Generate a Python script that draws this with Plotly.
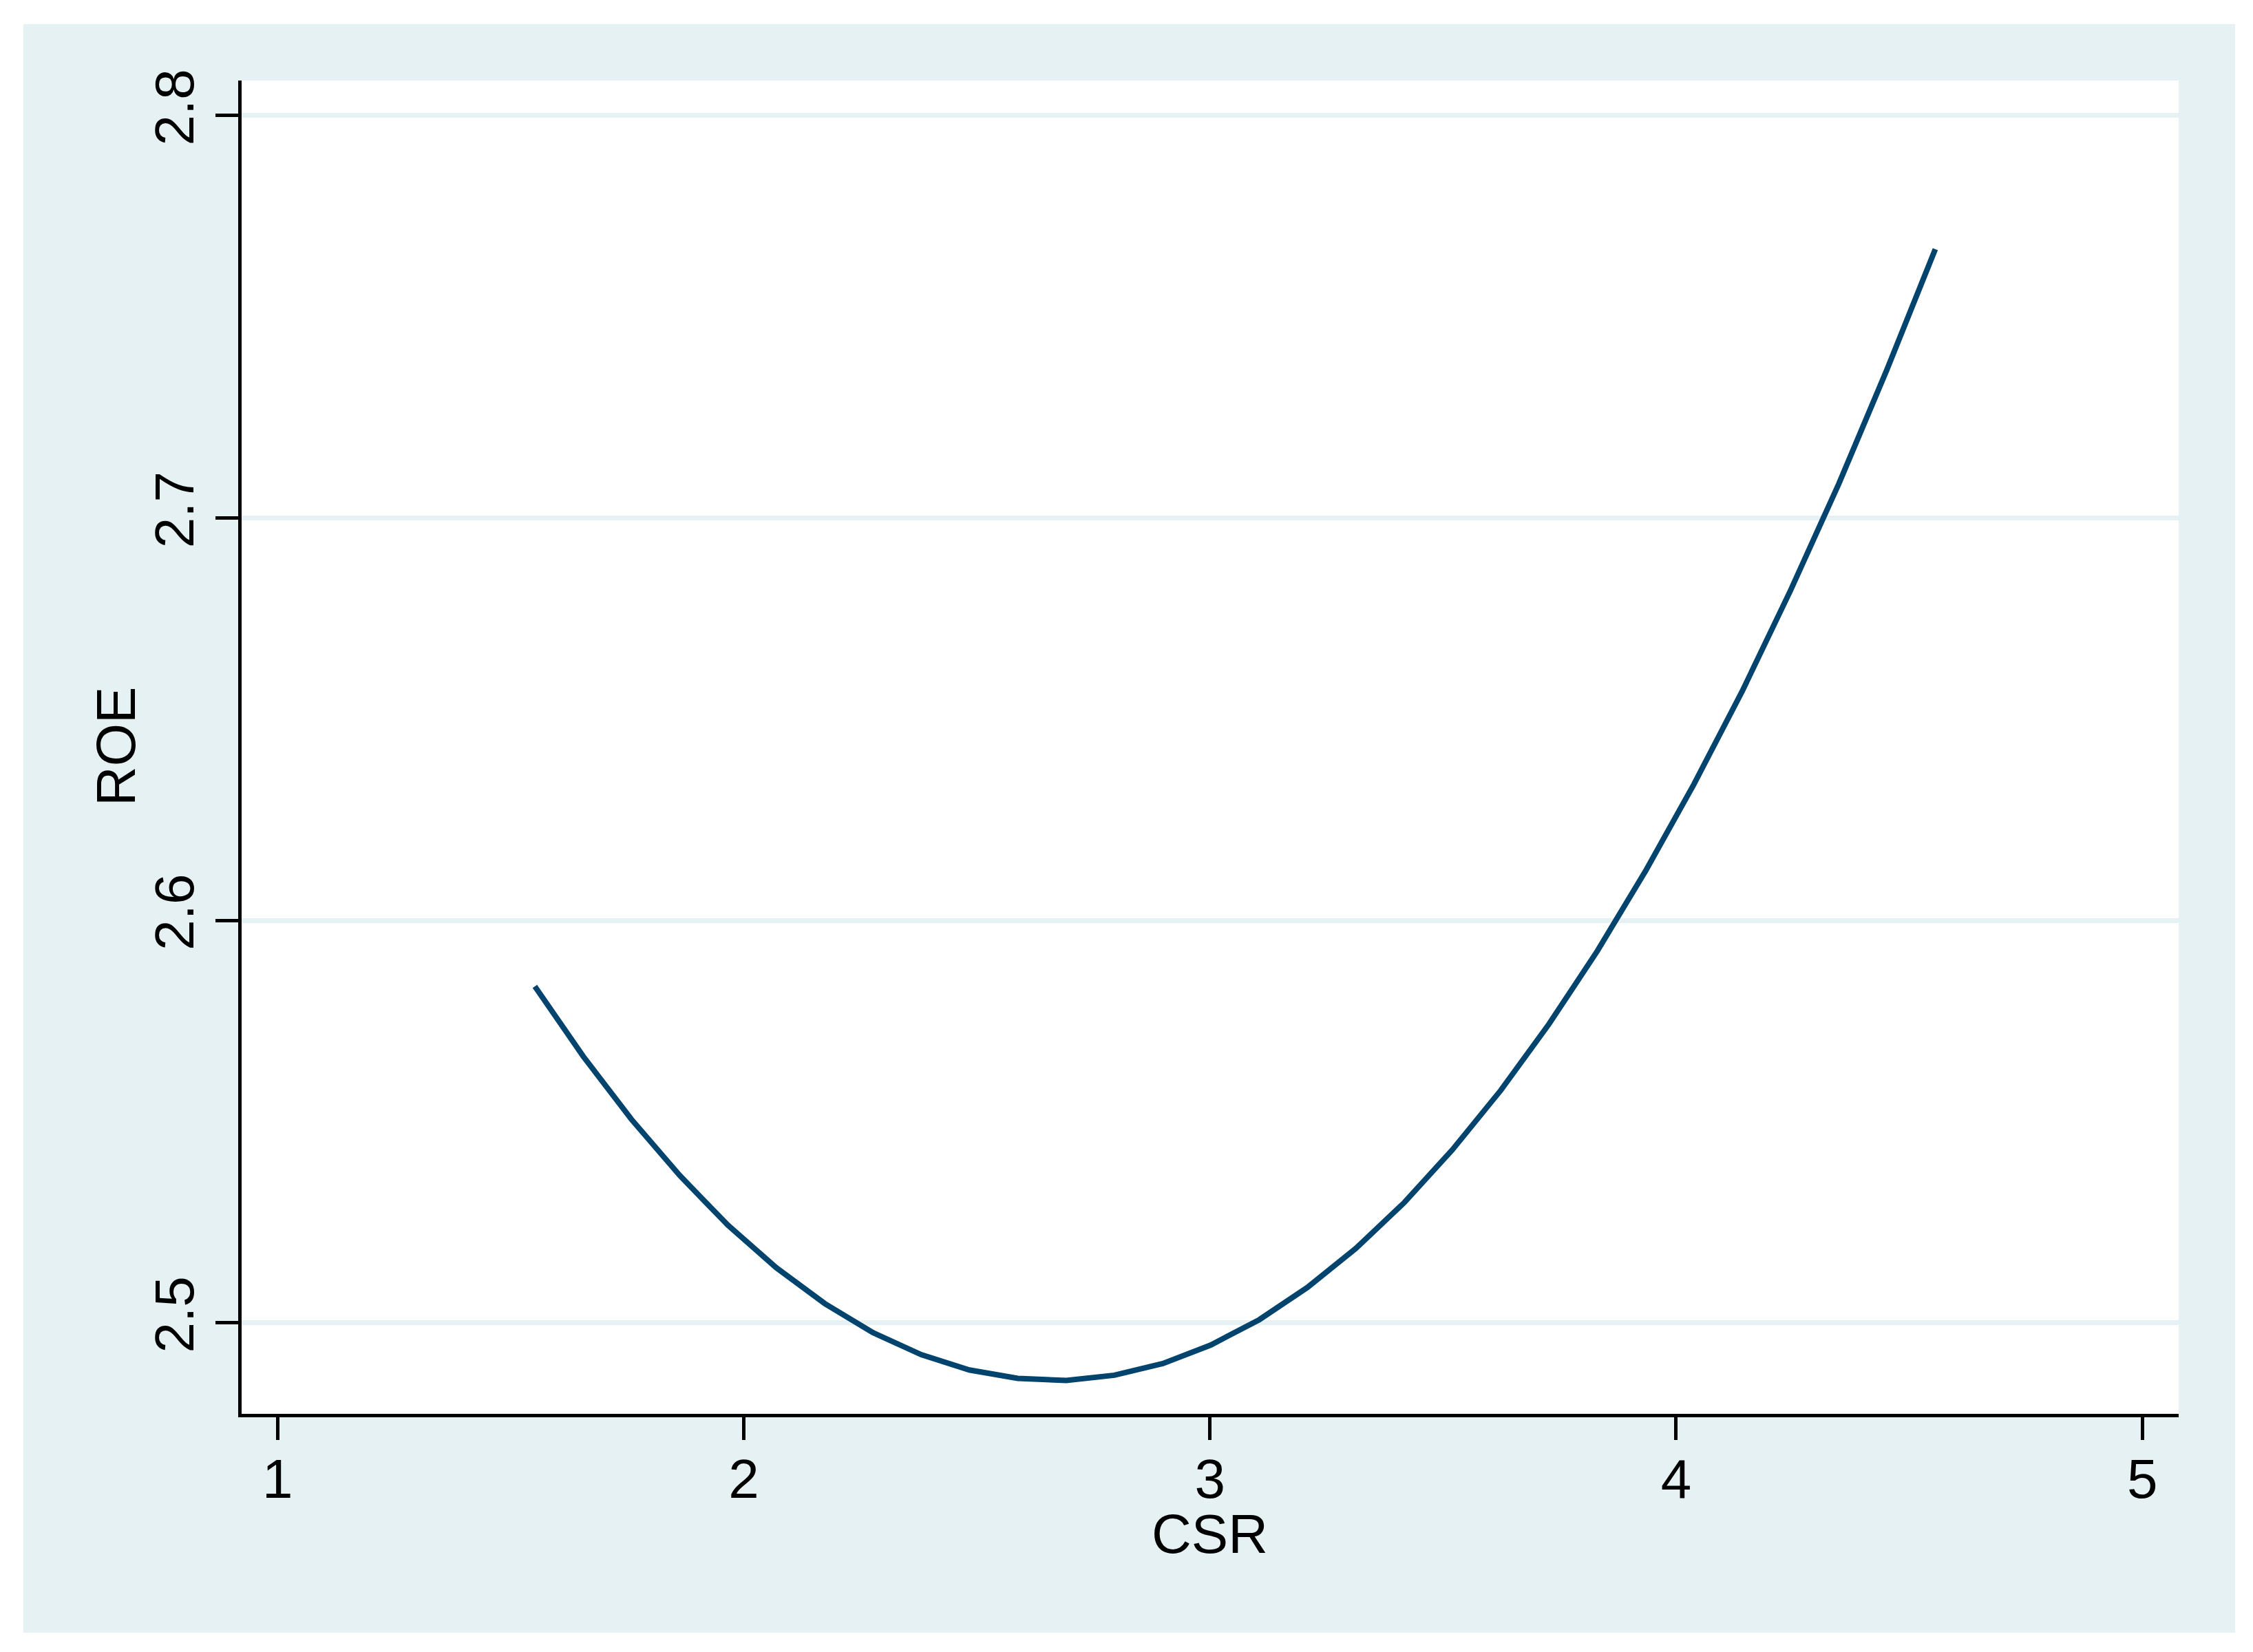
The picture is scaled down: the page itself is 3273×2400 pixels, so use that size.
import plotly.graph_objects as go

# Data
csr = [1.552, 1.656, 1.759, 1.863, 1.966, 2.070, 2.174, 2.277, 2.381, 2.484,
       2.588, 2.692, 2.795, 2.899, 3.002, 3.106, 3.209, 3.313, 3.417, 3.520,
       3.624, 3.727, 3.831, 3.934, 4.038, 4.142, 4.245, 4.349, 4.452, 4.556]
roe = [2.5836, 2.5662, 2.5506, 2.5366, 2.5243, 2.5137, 2.5048, 2.4976, 2.4921, 2.4883,
       2.4862, 2.4857, 2.4870, 2.4899, 2.4945, 2.5008, 2.5088, 2.5185, 2.5299, 2.5430,
       2.5578, 2.5742, 2.5924, 2.6122, 2.6338, 2.6570, 2.6819, 2.7085, 2.7368, 2.7668]

x_ticks = [1, 2, 3, 4, 5]
x_tick_labels = ["1", "2", "3", "4", "5"]
y_ticks = [2.5, 2.6, 2.7, 2.8]
y_tick_labels = ["2.5", "2.6", "2.7", "2.8"]

OFF = 8  # default page body margin
W, H = 3273 - 2 * OFF, 2400 - 2 * OFF
L, R, T, B = 351 - OFF, 3165 - OFF, 117 - OFF, 2054 - OFF
PANEL = "#E5F1F2"
LINE = "#02446E"
FONT = "Liberation Sans, Arial, sans-serif"

pw, ph = R - L, B - T
def px(xs):
    return (xs - OFF - L) / pw
def py(ys):
    return (B - (ys - OFF)) / ph

fig = go.Figure()
fig.add_trace(go.Scatter(x=csr, y=roe, mode="lines",
                         line=dict(color=LINE, width=8), showlegend=False,
                         hoverinfo="skip"))

fig.update_layout(
    width=W, height=H,
    margin=dict(l=L, r=W - R, t=T, b=H - B, pad=0),
    paper_bgcolor="white",
    plot_bgcolor="rgba(0,0,0,0)",
    font=dict(family=FONT, size=80, color="black"),
    showlegend=False,
    shapes=[
        dict(type="rect", xref="paper", yref="paper", layer="below",
             x0=px(34), x1=px(3247), y0=py(2372), y1=py(35),
             fillcolor=PANEL, line=dict(width=0)),
        dict(type="rect", xref="paper", yref="paper", layer="below",
             x0=0, x1=1, y0=0, y1=1,
             fillcolor="white", line=dict(width=0)),
    ],
    annotations=[
        dict(text="CSR", xref="paper", yref="paper", x=px(1757), y=py(2228),
             xanchor="center", yanchor="middle", showarrow=False,
             font=dict(family=FONT, size=80, color="black")),
        dict(text="ROE", xref="paper", yref="paper", x=px(168), y=py(1085),
             xanchor="center", yanchor="middle", showarrow=False, textangle=-90,
             font=dict(family=FONT, size=80, color="black")),
    ],
)

fig.update_xaxes(
    range=[0.923, 5.078],
    tickvals=x_ticks, ticktext=x_tick_labels,
    showgrid=False, zeroline=False,
    showline=True, linecolor="black", linewidth=5,
    ticks="outside", ticklen=33, tickwidth=4.5, tickcolor="black",
    ticklabelstandoff=-12,
    tickfont=dict(family=FONT, size=80, color="black"),
)
fig.update_yaxes(
    range=[2.4774, 2.8087],
    tickvals=y_ticks, ticktext=y_tick_labels,
    showgrid=True, gridcolor=PANEL, gridwidth=7,
    zeroline=False,
    showline=True, linecolor="black", linewidth=5,
    ticks="outside", ticklen=33, tickwidth=4.5, tickcolor="black",
    tickangle=-90,
    tickfont=dict(family=FONT, size=80, color="black"),
)

fig.write_html("out.html", config={"displayModeBar": False})
